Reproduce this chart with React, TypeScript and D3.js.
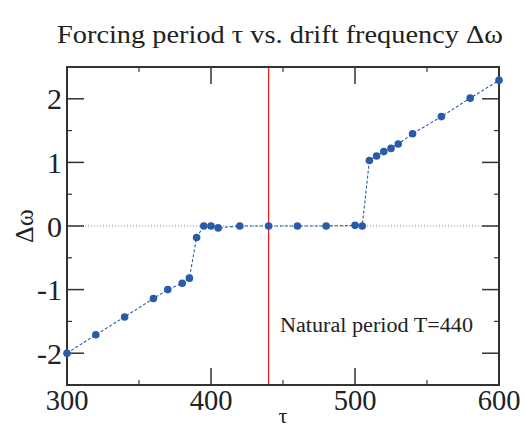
import React from "react";
import * as d3 from "d3";

const tau = [300, 320, 340, 360, 370, 380, 385, 390, 395, 400, 405, 420, 440, 460, 480, 500, 505, 510, 515, 520, 525, 530, 540, 560, 580, 600];
const dOmega = [-2.0, -1.71, -1.43, -1.14, -1.0, -0.9, -0.82, -0.18, 0, 0, -0.03, 0, 0, 0, 0, 0.01, 0, 1.03, 1.1, 1.17, 1.22, 1.29, 1.45, 1.72, 2.01, 2.29];
const xMajor = [300, 400, 500, 600];
const xMinor = [350, 450, 550];
const yMajor = [-2, -1, 0, 1, 2];
const yMinor = [-2.5, -1.5, -0.5, 0.5, 1.5, 2.5];
const naturalPeriod = 440;
const title = "Forcing period τ vs. drift frequency Δω";
const annotation = "Natural period T=440";

const W = 525, H = 427;
const L = 67, R = 499, T = 67, B = 385;
const FONT = "'Liberation Serif', 'Times New Roman', serif";

export default function App() {
  const x = d3.scaleLinear().domain([300, 600]).range([L, R]);
  const y = d3.scaleLinear().domain([-2.5, 2.5]).range([B, T]);
  const pts = tau.map((t, i) => [t, dOmega[i]] as [number, number]);
  const line = d3.line<[number, number]>().x(d => x(d[0])).y(d => y(d[1]))(pts) || "";
  const axisColor = "#333";
  const maj = 17, min = 5;
  return (
    <svg width={W} height={H} style={{ position: "absolute", left: 0, top: 0, background: "#fff" }} fontFamily={FONT}>
      <text x={280} y={43} textAnchor="middle" fontSize={25.5} fill="#222" textLength={446} lengthAdjust="spacingAndGlyphs">{title}</text>
      {/* zero dotted line */}
      <line x1={L} x2={R} y1={y(0)} y2={y(0)} stroke="#888" strokeWidth={1} strokeDasharray="1,2" />
      {/* natural period */}
      <line x1={x(naturalPeriod)} x2={x(naturalPeriod)} y1={T} y2={B} stroke="#e8231f" strokeWidth={1.3} />
      {/* ticks */}
      {xMajor.map(v => (
        <g key={"xM" + v}>
          <line x1={x(v)} x2={x(v)} y1={B} y2={B - maj} stroke={axisColor} strokeWidth={1.5} />
          <line x1={x(v)} x2={x(v)} y1={T} y2={T + maj} stroke={axisColor} strokeWidth={1.5} />
          <text x={x(v)} y={410} textAnchor="middle" fontSize={28.5} fill="#222">{v}</text>
        </g>
      ))}
      {xMinor.map(v => (
        <g key={"xm" + v}>
          <line x1={x(v)} x2={x(v)} y1={B} y2={B - min} stroke={axisColor} strokeWidth={1.2} />
          <line x1={x(v)} x2={x(v)} y1={T} y2={T + min} stroke={axisColor} strokeWidth={1.2} />
        </g>
      ))}
      {yMajor.map(v => (
        <g key={"yM" + v}>
          <line x1={L} x2={L + maj} y1={y(v)} y2={y(v)} stroke={axisColor} strokeWidth={1.5} />
          <line x1={R} x2={R - maj} y1={y(v)} y2={y(v)} stroke={axisColor} strokeWidth={1.5} />
          <text x={62} y={y(v) + 10.5} textAnchor="end" fontSize={30} fill="#222">{v < 0 ? "-" + Math.abs(v) : String(v)}</text>
        </g>
      ))}
      {yMinor.map(v => (
        <g key={"ym" + v}>
          <line x1={L} x2={L + min} y1={y(v)} y2={y(v)} stroke={axisColor} strokeWidth={1.2} />
          <line x1={R} x2={R - min} y1={y(v)} y2={y(v)} stroke={axisColor} strokeWidth={1.2} />
        </g>
      ))}
      {/* frame */}
      <rect x={L} y={T} width={R - L} height={B - T} fill="none" stroke={axisColor} strokeWidth={2} />
      {/* data */}
      <path d={line} fill="none" stroke="#2a5db0" strokeWidth={1.1} strokeDasharray="3,2" />
      {pts.map((d, i) => (
        <circle key={i} cx={x(d[0])} cy={y(d[1])} r={3.8} fill="#2a5aaa" />
      ))}
      <text x={280} y={332} fontSize={20} fill="#222" textLength={193} lengthAdjust="spacingAndGlyphs">{annotation}</text>
      <text x={283} y={423} textAnchor="middle" fontSize={22} fill="#222">τ</text>
      <text transform={`translate(33, ${y(0)}) rotate(-90)`} textAnchor="middle" fontSize={26} fill="#222">Δω</text>
    </svg>
  );
}
